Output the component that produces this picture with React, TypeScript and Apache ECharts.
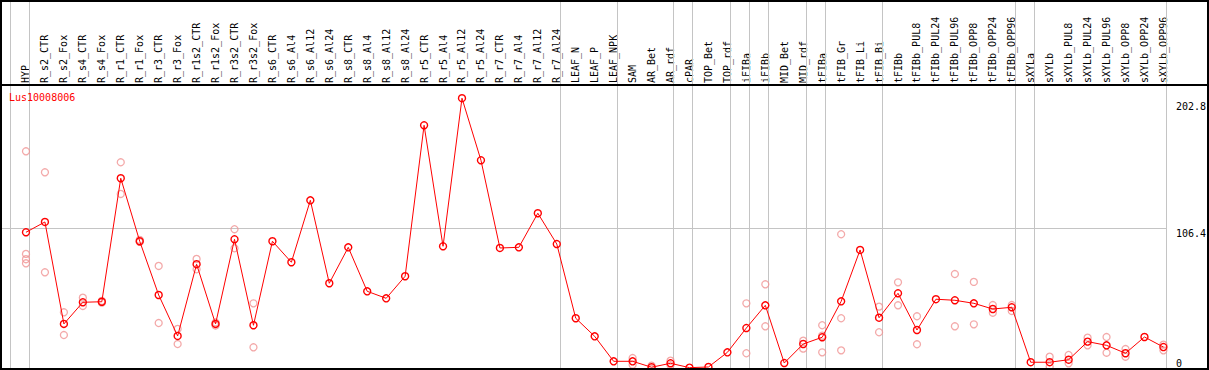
import React, { useEffect, useRef } from "react";
import * as echarts from "echarts";

const GENE = "Lus10008006";

const CATEGORIES: string[] = [
  "HYP",
  "R_s2_CTR", "R_s2_Fox", "R_s4_CTR", "R_s4_Fox", "R_r1_CTR", "R_r1_Fox",
  "R_r3_CTR", "R_r3_Fox", "R_r1s2_CTR", "R_r1s2_Fox", "R_r3s2_CTR", "R_r3s2_Fox",
  "R_s6_CTR", "R_s6_Al4", "R_s6_Al12", "R_s6_Al24",
  "R_s8_CTR", "R_s8_Al4", "R_s8_Al12", "R_s8_Al24",
  "R_r5_CTR", "R_r5_Al4", "R_r5_Al12", "R_r5_Al24",
  "R_r7_CTR", "R_r7_Al4", "R_r7_Al12", "R_r7_Al24",
  "LEAF_N", "LEAF_P", "LEAF_NPK",
  "SAM", "AR_Bet", "AR_rdf", "cPAR", "TOP_Bet", "TOP_rdf", "iFIBa", "iFIBb",
  "MID_Bet", "MID_rdf", "tFIBa", "tFIB_Gr", "tFIB_Li", "tFIB_Bi", "tFIBb",
  "tFIBb_PUL8", "tFIBb_PUL24", "tFIBb_PUL96", "tFIBb_OPP8", "tFIBb_OPP24", "tFIBb_OPP96",
  "sXYLa", "sXYLb",
  "sXYLb_PUL8", "sXYLb_PUL24", "sXYLb_PUL96", "sXYLb_OPP8", "sXYLb_OPP24", "sXYLb_OPP96",
];

// mean expression per sample
const MEANS: number[] = [
  103.9,
  111.7, 34.5, 50.9, 51.3, 144.8, 97.1,
  56.4, 25.4, 79.7, 34.5, 98.6, 33.5,
  97.1, 81.2, 128.1, 65.3,
  92.5, 59.2, 53.9, 70.6,
  184.9, 93.3, 205.4, 158.4,
  92.0, 92.5, 118.3, 95.0,
  38.8, 25.1, 6.2,
  6.2, 1.7, 4.7, 1.4, 1.9, 13.0, 31.4, 48.6,
  4.9, 19.3, 24.4, 51.6, 90.5, 39.2, 57.7,
  29.9, 53.2, 52.4, 50.1, 45.8, 47.1,
  5.5, 5.5,
  7.4, 21.1, 18.3, 12.3, 24.6, 17.0,
];

// individual replicate values per sample (aligned with CATEGORIES)
const REPLICATES: number[][] = [
  [165.2, 87.5, 83.5, 80.4],
  [149.3, 73.6], [43.3, 26.1], [54.4, 48.1], [51.9, 50.7], [156.9, 132.9], [98.1, 96.6],
  [78.4, 35.2], [30.7, 19.3], [83.7, 75.9], [35.6, 33.3], [106.2, 91.8], [50.1, 16.8],
  [], [], [], [],
  [], [], [], [],
  [], [], [], [],
  [], [], [], [],
  [], [], [],
  [8.7, 3.6], [2.9, 0.4], [6.7, 3.2], [], [], [], [50.1, 12.3], [64.5, 32.7],
  [], [21.8, 15.8], [33.5, 25.6, 13.0], [102.4, 38.8, 14.5], [], [47.6, 28.2], [66.0, 48.6],
  [40.3, 19.1], [], [72.3, 32.7], [66.3, 34.2], [48.8, 43.0], [48.8, 44.3],
  [], [9.7, 2.1],
  [11.0, 4.7], [24.1, 18.3], [24.6, 12.7], [15.5, 9.7], [], [18.8, 14.5],
];

// first sample index of each tissue group (61 = end)
const GROUP_STARTS: number[] = [0, 1, 29, 32, 35, 36, 38, 39, 40, 42, 43, 46, 53, 54, 61];

const Y_TICKS: number[] = [0, 106.4, 202.8];
const GRID_VALUE = 106.4;
const Y_MAX = 215.4;

const FONT = '"DejaVu Sans Mono", "Liberation Mono", monospace';
const SEP_OFFSET = 15.5;

export default function App() {
  const ref = useRef<HTMLDivElement>(null);

  useEffect(() => {
    if (!ref.current) return;
    const chart = echarts.init(ref.current, null, { renderer: "svg" });

    const scatterData: [number, number][] = [];
    REPLICATES.forEach((reps, i) => reps.forEach((v) => scatterData.push([i, v])));

    const option: any = {
      animation: false,
      backgroundColor: "#ffffff",
      title: {
        text: GENE,
        left: 9,
        top: 92,
        padding: 0,
        textStyle: { color: "#ff0000", fontSize: 10, fontFamily: FONT, fontWeight: "normal" },
      },
      grid: { left: 16.5, right: 33.5, top: 85, bottom: 0.5, containLabel: false },
      xAxis: [
        {
          type: "category",
          data: CATEGORIES,
          position: "top",
          boundaryGap: true,
          axisLine: { show: false },
          axisTick: { show: false },
          splitLine: { show: false },
          axisLabel: {
            interval: 0,
            rotate: 90,
            margin: 2,
            color: "#000",
            fontSize: 10,
            fontFamily: FONT,
          },
        },
        {
          type: "value",
          min: -0.5,
          max: CATEGORIES.length - 0.5,
          show: false,
        },
      ],
      yAxis: {
        type: "value",
        min: 0,
        max: Y_MAX,
        position: "right",
        axisLine: { show: false },
        axisTick: { show: false },
        splitLine: { show: false },
        axisLabel: {
          customValues: Y_TICKS,
          margin: 3,
          verticalAlign: "middle",
          formatter: (v: number) => (v === 0 ? `{z|${v}}` : `{t|${v}}`),
          rich: {
            t: { padding: [10, 0, 0, 0], fontSize: 10, fontFamily: FONT, color: "#000" },
            z: { padding: [0, 0, 12, 0], fontSize: 10, fontFamily: FONT, color: "#000" },
          },
        },
      },
      series: [
        {
          type: "custom",
          name: "separators",
          xAxisIndex: 1,
          yAxisIndex: 0,
          clip: false,
          silent: true,
          z: 1,
          data: GROUP_STARTS.map((j) => [j, 0]),
          renderItem: (params: any, api: any) => {
            const x = Math.round(api.coord([api.value(0), 0])[0] - SEP_OFFSET - 0.5) + 0.5;
            return {
              type: "line",
              shape: { x1: x, y1: 0, x2: x, y2: 370 },
              style: { stroke: "#c4c4c4", lineWidth: 1 },
            };
          },
        },
        {
          type: "custom",
          name: "gridline",
          xAxisIndex: 1,
          yAxisIndex: 0,
          clip: false,
          silent: true,
          z: 1,
          data: [[CATEGORIES.length, GRID_VALUE]],
          renderItem: (params: any, api: any) => {
            const p = api.coord([api.value(0), api.value(1)]);
            const y = Math.floor(p[1]) + 0.5;
            const xEnd = Math.round(p[0] - SEP_OFFSET - 0.5) + 0.5;
            return {
              type: "line",
              shape: { x1: 0, y1: y, x2: xEnd, y2: y },
              style: { stroke: "#c4c4c4", lineWidth: 1 },
            };
          },
        },
        {
          type: "scatter",
          name: "replicates",
          xAxisIndex: 0,
          data: scatterData,
          symbol: "circle",
          symbolSize: 7,
          z: 2,
          itemStyle: { color: "rgba(0,0,0,0)", borderColor: "#f09494", borderWidth: 1.3 },
        },
        {
          type: "line",
          name: "mean",
          xAxisIndex: 0,
          data: MEANS,
          symbol: "circle",
          symbolSize: 7,
          z: 3,
          lineStyle: { color: "#ff0000", width: 1 },
          itemStyle: { color: "rgba(0,0,0,0)", borderColor: "#ff0000", borderWidth: 1.4 },
        },
      ],
      graphic: [
        {
          type: "rect",
          shape: { x: 1, y: 1, width: 1207, height: 368 },
          style: { fill: "none", stroke: "#000", lineWidth: 2 },
          silent: true,
          z: 100,
        },
        {
          type: "line",
          shape: { x1: 0, y1: 85, x2: 1209, y2: 85 },
          style: { stroke: "#000", lineWidth: 2 },
          silent: true,
          z: 100,
        },
      ],
    };

    chart.setOption(option);
    return () => chart.dispose();
  }, []);

  return (
    <div
      ref={ref}
      style={{ position: "fixed", left: 0, top: 0, width: 1209, height: 370, background: "#fff" }}
    />
  );
}
